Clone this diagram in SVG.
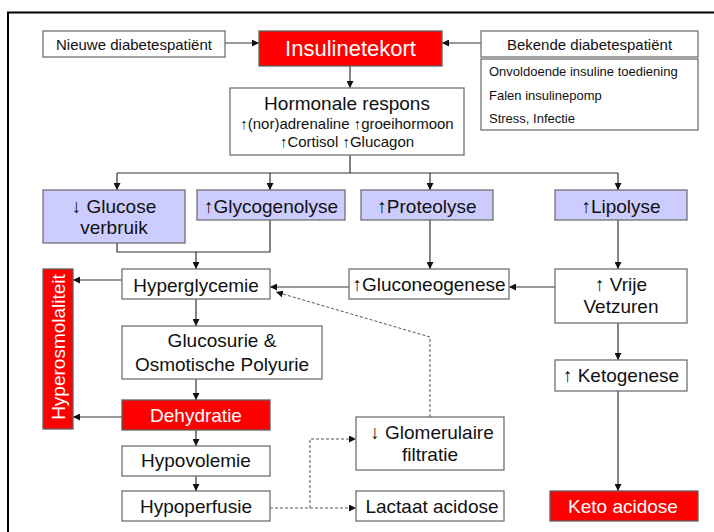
<svg xmlns="http://www.w3.org/2000/svg" width="714" height="532" viewBox="0 0 714 532">
<defs>
<marker id="ah" viewBox="0 0 10 10" refX="10" refY="5" markerWidth="7" markerHeight="7" markerUnits="userSpaceOnUse" orient="auto"><path d="M0 0 L10 5 L0 10 Z" fill="#111"/></marker>
<style>
.b{fill:#fff;stroke:#707070;stroke-width:1.3}
.l{fill:#ccccff;stroke:#707070;stroke-width:1.3}
.r{fill:#ff0000;stroke:#606060;stroke-width:1.3}
text{font-family:"Liberation Sans",Arial,sans-serif;fill:#111;text-anchor:middle}
.w{fill:#fff}
.s13{font-size:13px;text-anchor:start}
.s15{font-size:15px}
.s19{font-size:19px}
.s22{font-size:22px}
.c{fill:none;stroke:#333;stroke-width:1.2}
.a{marker-end:url(#ah)}
.d{fill:none;stroke:#555;stroke-width:1;stroke-dasharray:3 2}
</style>
</defs>
<path d="M8 532 V12.5 H714" fill="none" stroke="#000" stroke-width="2"/>
<g id="connectors">
<path class="c a" d="M225 43 H259"/>
<path class="c a" d="M481 43 H442"/>
<path class="c a" d="M350 66 V88"/>
<path class="c" d="M350 155 V173 M117 173 H618"/>
<path class="c a" d="M117 173 V190"/>
<path class="c a" d="M270 173 V190"/>
<path class="c a" d="M430 173 V190"/>
<path class="c a" d="M618 173 V190"/>
<path class="c" d="M117 243 V252 H270 V220"/>
<path class="c a" d="M196 252 V269"/>
<path class="c a" d="M122 280 H73"/>
<path class="c a" d="M349 287 H270"/>
<path class="c a" d="M430 220 V269"/>
<path class="c a" d="M618 220 V269"/>
<path class="c a" d="M555 287 H509"/>
<path class="c a" d="M618 323 V360"/>
<path class="c a" d="M618 391 V491"/>
<path class="c a" d="M196 299 V326"/>
<path class="c a" d="M196 379 V400"/>
<path class="c a" d="M122 417 H73"/>
<path class="c a" d="M196 430 V446"/>
<path class="c a" d="M196 476 V491"/>
<path class="d a" d="M270 508 H356"/>
<path class="d a" d="M310 508 V439 H356"/>
<path class="d a" d="M430 417 V337 L276 292"/>
</g>
<g id="nieuwe"><rect class="b" x="43" y="31" width="182" height="26"/><text class="s15" x="134" y="50">Nieuwe diabetespatiënt</text></g>
<g id="insulinetekort"><rect class="r" x="259" y="31" width="183" height="35"/><text class="s22 w" x="350.5" y="56">Insulinetekort</text></g>
<g id="bekende"><rect class="b" x="481" y="31" width="217" height="26"/><text class="s15" x="589.5" y="50">Bekende diabetespatiënt</text></g>
<g id="oorzaken"><rect class="b" x="481" y="59" width="217" height="71"/>
<text class="s13" x="489" y="76">Onvoldoende insuline toediening</text>
<text class="s13" x="489" y="100">Falen insulinepomp</text>
<text class="s13" x="489" y="123">Stress, Infectie</text></g>
<g id="hormonale"><rect class="b" x="230" y="88" width="234" height="67"/>
<text class="s19" x="347" y="110">Hormonale respons</text>
<text class="s15" x="347" y="129">↑(nor)adrenaline ↑groeihormoon</text>
<text class="s15" x="347" y="147">↑Cortisol ↑Glucagon</text></g>
<g id="glucoseverbruik"><rect class="l" x="43" y="190" width="142" height="53"/><text class="s19" x="114" y="213">↓ Glucose</text><text class="s19" x="114" y="234">verbruik</text></g>
<g id="glycogenolyse"><rect class="l" x="197" y="190" width="148" height="30"/><text class="s19" x="271" y="213">↑Glycogenolyse</text></g>
<g id="proteolyse"><rect class="l" x="361" y="190" width="132" height="30"/><text class="s19" x="427" y="213">↑Proteolyse</text></g>
<g id="lipolyse"><rect class="l" x="555" y="190" width="132" height="30"/><text class="s19" x="621" y="213">↑Lipolyse</text></g>
<g id="hyperosmolaliteit"><rect class="r" x="43" y="269" width="30" height="160"/><text class="s19 w" transform="translate(65 347) rotate(-90)" x="0" y="0">Hyperosmolaliteit</text></g>
<g id="hyperglycemie"><rect class="b" x="122" y="269" width="148" height="30"/><text class="s19" x="196" y="292">Hyperglycemie</text></g>
<g id="gluconeogenese"><rect class="b" x="349" y="269" width="160" height="30"/><text class="s19" x="429" y="291">↑Gluconeogenese</text></g>
<g id="vrijevetzuren"><rect class="b" x="555" y="269" width="132" height="54"/><text class="s19" x="621" y="291">↑ Vrije</text><text class="s19" x="621" y="313">Vetzuren</text></g>
<g id="glucosurie"><rect class="b" x="122" y="326" width="200" height="53"/><text class="s19" x="222" y="347">Glucosurie &amp;</text><text class="s19" x="222" y="371">Osmotische Polyurie</text></g>
<g id="ketogenese"><rect class="b" x="555" y="360" width="132" height="31"/><text class="s19" x="621" y="382">↑ Ketogenese</text></g>
<g id="dehydratie"><rect class="r" x="122" y="400" width="148" height="30"/><text class="s19 w" x="196" y="422">Dehydratie</text></g>
<g id="glomerulaire"><rect class="b" x="356" y="417" width="148" height="53"/><text class="s19" x="432" y="439">↓ Glomerulaire</text><text class="s19" x="430" y="461">filtratie</text></g>
<g id="hypovolemie"><rect class="b" x="122" y="446" width="148" height="30"/><text class="s19" x="196" y="467">Hypovolemie</text></g>
<g id="hypoperfusie"><rect class="b" x="122" y="491" width="148" height="30"/><text class="s19" x="196" y="513">Hypoperfusie</text></g>
<g id="lactaat"><rect class="b" x="356" y="491" width="148" height="30"/><text class="s19" x="432" y="513">Lactaat acidose</text></g>
<g id="ketoacidose"><rect class="r" x="550" y="491" width="148" height="30"/><text class="s19 w" x="623" y="513">Keto acidose</text></g>
</svg>
